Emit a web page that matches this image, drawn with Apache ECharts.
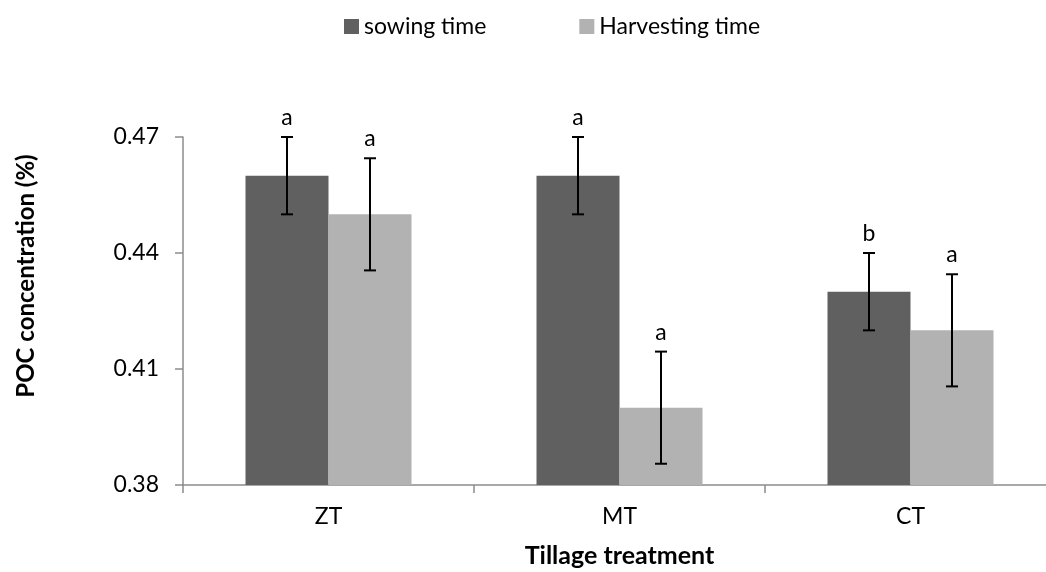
<!DOCTYPE html>
<html>
<head>
<meta charset="utf-8">
<script src="https://cdn.jsdelivr.net/npm/echarts@6/dist/echarts.min.js"></script>
<style>html,body{margin:0;padding:0;background:#fff;}#c{width:1046px;height:572px;}</style>
</head>
<body>
<div id="c"></div>
<script>
var categories = ['ZT', 'MT', 'CT'];
var seriesNames = ['sowing time', 'Harvesting time'];
var sowing = [0.46, 0.46, 0.43];
var harvest = [0.45, 0.40, 0.42];
var sowingErr = [0.01, 0.01, 0.01];
var harvestErr = [0.0145, 0.0145, 0.0145];
var sowingLetters = ['a', 'a', 'b'];
var harvestLetters = ['a', 'a', 'a'];
var yTicks = [0.38, 0.41, 0.44, 0.47];

var FONT = 'Lato';
var BAR_W = 83;

function errSeries(name, vals, errs, letters, offset) {
  var data = vals.map(function (v, i) { return [i, v, errs[i], letters[i]]; });
  return {
    type: 'custom',
    name: name + ' err',
    z: 10,
    data: data,
    renderItem: function (params, api) {
      var i = api.value(0), v = api.value(1), e = api.value(2);
      var top = api.coord([i, v + e]);
      var bot = api.coord([i, v - e]);
      var x = top[0] + offset;
      var cap = 6;
      var st = { stroke: '#000', lineWidth: 2 };
      return {
        type: 'group',
        children: [
          { type: 'line', shape: { x1: x, y1: top[1], x2: x, y2: bot[1] }, style: st },
          { type: 'line', shape: { x1: x - cap, y1: top[1], x2: x + cap, y2: top[1] }, style: st },
          { type: 'line', shape: { x1: x - cap, y1: bot[1], x2: x + cap, y2: bot[1] }, style: st },
          { type: 'text', style: { text: letters[i], x: x, y: top[1] - 8, textAlign: 'center', textVerticalAlign: 'bottom', fontFamily: FONT, fontSize: 23, fill: '#000' } }
        ]
      };
    }
  };
}

var chart = echarts.init(document.getElementById('c'));
chart.setOption({
  animation: false,
  textStyle: { fontFamily: FONT },
  legend: {
    data: seriesNames,
    left: 339, top: 10,
    icon: 'rect', itemWidth: 15, itemHeight: 15, itemGap: 93,
    textStyle: { fontFamily: FONT, fontSize: 23, color: '#000' }
  },
  grid: { left: 183, top: 137, width: 873, bottom: 87, outerBoundsMode: 'none', containLabel: false },
  xAxis: {
    type: 'category',
    data: categories,
    name: 'Tillage treatment',
    nameLocation: 'middle',
    nameGap: 58,
    nameTextStyle: { fontFamily: FONT, fontSize: 25, fontWeight: 'bold', color: '#000' },
    axisLine: { lineStyle: { color: '#8c8c8c', width: 1.5 } },
    axisTick: { show: true, length: 8, lineStyle: { color: '#8c8c8c', width: 1.5 } },
    axisLabel: { fontFamily: FONT, fontSize: 23, color: '#000', margin: 20 }
  },
  yAxis: {
    type: 'value',
    min: yTicks[0], max: yTicks[yTicks.length - 1], interval: 0.03,
    name: 'POC concentration (%)',
    nameLocation: 'middle',
    nameGap: 145,
    nameTextStyle: { fontFamily: FONT, fontSize: 24, fontWeight: 'bold', color: '#000', padding: [0, 0, 0, 70] },
    splitLine: { show: false },
    axisLine: { show: true, lineStyle: { color: '#8c8c8c', width: 1.5 } },
    axisTick: { show: true, length: 8, lineStyle: { color: '#8c8c8c', width: 1.5 } },
    axisLabel: { fontFamily: FONT, fontSize: 23, color: '#000', margin: 24,
      formatter: function (v) { return v.toFixed(2); } }
  },
  series: [
    { type: 'bar', name: seriesNames[0], data: sowing, barWidth: BAR_W, barGap: '0%', itemStyle: { color: '#606060' } },
    { type: 'bar', name: seriesNames[1], data: harvest, barWidth: BAR_W, barGap: '0%', itemStyle: { color: '#b2b2b2' } },
    errSeries(seriesNames[0], sowing, sowingErr, sowingLetters, -BAR_W / 2),
    errSeries(seriesNames[1], harvest, harvestErr, harvestLetters, BAR_W / 2)
  ]
});
</script>
</body>
</html>
